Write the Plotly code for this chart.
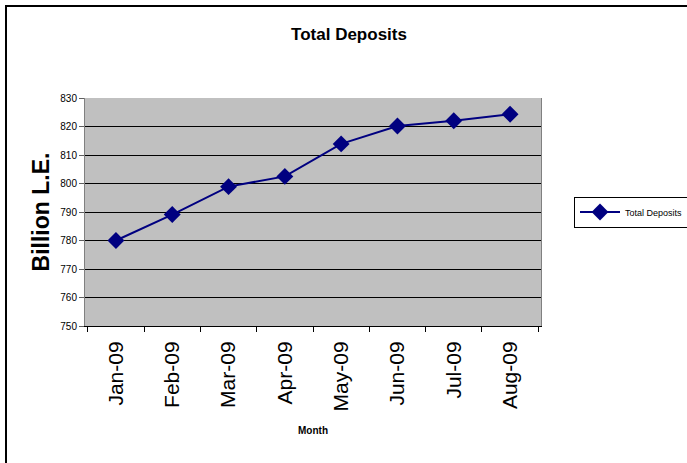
import plotly.graph_objects as go

months = ["Jan-09", "Feb-09", "Mar-09", "Apr-09", "May-09", "Jun-09", "Jul-09", "Aug-09"]
deposits = [780.0, 789.1, 798.9, 802.5, 813.9, 820.2, 822.0, 824.3]
y_ticks = [750, 760, 770, 780, 790, 800, 810, 820, 830]

W, H = 687, 463
L, R, T, B = 85, 146, 98, 137
pw, ph = W - L - R, H - T - B


def px_x(p):
    return (p - L) / pw


def px_y(p):
    return (H - B - p) / ph


fig = go.Figure(go.Scatter(
    x=months,
    y=deposits,
    mode="lines+markers",
    name="Total Deposits",
    line=dict(color="#000080", width=2),
    marker=dict(symbol="diamond", size=13, color="#000080"),
))

fig.update_layout(
    width=W,
    height=H,
    margin=dict(l=L, r=R, t=T, b=B, autoexpand=False),
    paper_bgcolor="white",
    plot_bgcolor="#C0C0C0",
    font=dict(family="Liberation Sans, Arial", color="black"),
    title=dict(
        text="<b>Total Deposits</b>",
        x=349 / W, xanchor="center",
        y=1 - 34 / H, yanchor="middle",
        font=dict(size=17),
    ),
    showlegend=True,
    legend=dict(
        x=px_x(574), xanchor="left",
        y=px_y(212), yanchor="middle",
        bgcolor="white",
        bordercolor="black",
        borderwidth=1,
        font=dict(size=9),
        itemwidth=40,
    ),
    xaxis=dict(
        type="category",
        automargin=False,
        tickson="boundaries",
        ticks="outside",
        ticklen=5,
        tickcolor="black",
        tickangle=-90,
        tickfont=dict(size=21),
        ticklabelstandoff=6,
        showline=True,
        linecolor="black",
        linewidth=1,
        showgrid=False,
        title=dict(text="<b>Month</b>", font=dict(size=10), standoff=16),
    ),
    yaxis=dict(
        automargin=False,
        range=[750, 830],
        tickvals=y_ticks,
        ticks="outside",
        ticklen=5,
        tickcolor="#606060",
        tickfont=dict(size=10),
        showline=True,
        linecolor="#808080",
        linewidth=1,
        mirror=True,
        showgrid=True,
        gridcolor="black",
        gridwidth=1,
        zeroline=False,
        title=dict(text="<b>Billion L.E.</b>", font=dict(size=23), standoff=4),
    ),
    shapes=[
        dict(
            type="rect", xref="paper", yref="paper",
            x0=px_x(6), x1=px_x(W + 20), y0=px_y(H + 20), y1=px_y(6),
            line=dict(color="black", width=2),
            fillcolor="rgba(0,0,0,0)",
            layer="above",
        )
    ],
)

# page has a default 8px body margin; drop it so the figure sits at 0,0
fig.write_html(
    "out.html",
    config={"displayModeBar": False},
    post_script="document.body.style.margin='0px';",
)
